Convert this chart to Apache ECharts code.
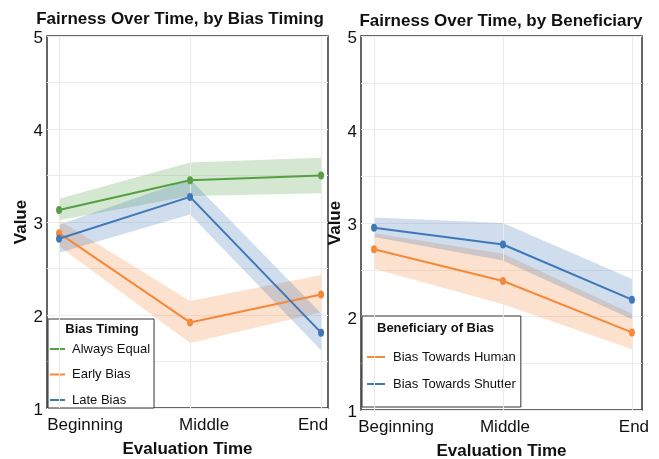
<!DOCTYPE html>
<html>
<head>
<meta charset="utf-8">
<script src="https://cdn.jsdelivr.net/npm/echarts@6/dist/echarts.min.js"></script>
<style>html,body{margin:0;padding:0;background:#fff}#c{width:659px;height:459px}</style>
</head>
<body>
<div id="c"></div>
<script>
// ---- data ----
const categories = ['Beginning', 'Middle', 'End'];
const yTicks = [1, 2, 3, 4, 5];

// Left panel: by Bias Timing
const timingNames = ['Always Equal', 'Early Bias', 'Late Bias'];
const alwaysEqual = [3.13, 3.45, 3.50];
const alwaysEqualLo = [3.02, 3.28, 3.31];
const alwaysEqualHi = [3.25, 3.64, 3.69];
const earlyBias = [2.88, 1.92, 2.22];
const earlyBiasLo = [2.74, 1.70, 2.03];
const earlyBiasHi = [3.02, 2.15, 2.43];
const lateBias = [2.82, 3.27, 1.81];
const lateBiasLo = [2.67, 3.08, 1.62];
const lateBiasHi = [2.97, 3.46, 2.02];

// Right panel: by Beneficiary
const benefNames = ['Bias Towards Human', 'Bias Towards Shutter'];
const towardsHuman = [2.72, 2.38, 1.83];
const towardsHumanLo = [2.51, 2.13, 1.65];
const towardsHumanHi = [2.89, 2.67, 2.03];
const towardsShutter = [2.95, 2.77, 2.18];
const towardsShutterLo = [2.85, 2.60, 1.97];
const towardsShutterHi = [3.06, 3.00, 2.40];

const GREEN = '#55a043', ORANGE = '#f4893a', BLUE = '#3f78b8';
const FONT = '"Liberation Sans", Arial, Helvetica, sans-serif';

const pts = arr => arr.map((v, i) => [i, v]);

function bandSeries(idx, lo, hi, color, withGrid) {
  const s = {
    type: 'custom', xAxisIndex: idx, yAxisIndex: idx, silent: true, z: 1,
    data: lo.map((v, i) => [i, v, hi[i]]),
    encode: { x: 0, y: [1, 2] },
    renderItem: function (params, api) {
      if (params.dataIndex !== 0) return null;
      const top = hi.map((v, i) => api.coord([i, v]));
      const bot = lo.map((v, i) => api.coord([i, v])).reverse();
      return {
        type: 'polygon',
        shape: { points: top.concat(bot) },
        style: { fill: color, opacity: 0.25 }
      };
    }
  };
  const arr = [s];
  if (withGrid) {
    arr.push({
      type: 'line', xAxisIndex: idx, yAxisIndex: idx, data: [], silent: true, z: 0,
      markLine: {
        silent: true, symbol: 'none', label: { show: false },
        lineStyle: { color: '#e9e9e9', width: 1, type: 'solid' },
        data: categories.map((c, i) => ({ xAxis: i }))
      }
    });
  }
  return arr;
}
function mainSeries(idx, name, vals, color) {
  return {
    type: 'line', name: name, xAxisIndex: idx, yAxisIndex: idx, data: pts(vals),
    symbol: 'circle', symbolSize: [6, 8], z: 5,
    lineStyle: { color: color, width: 2, type: 'solid' },
    itemStyle: { color: color, borderWidth: 0 }
  };
}

function xAxis(idx, min, max, pads) {
  const rich = {};
  categories.forEach((c, i) => { rich['c' + i] = { fontSize: 17, fontFamily: FONT, color: '#111', padding: pads[i] }; });
  return {
    type: 'value', gridIndex: idx, min: min, max: max,
    name: 'Evaluation Time', nameLocation: 'middle', nameGap: 33,
    nameTextStyle: { fontSize: 17, fontWeight: 'bold', fontFamily: FONT, color: '#111' },
    axisLine: { show: false }, axisTick: { show: false }, splitLine: { show: false },
    axisLabel: {
      customValues: categories.map((c, i) => i), margin: 9,
      formatter: v => { const i = Math.round(v); return '{c' + i + '|' + categories[i] + '}'; },
      rich: rich
    }
  };
}
function yAxis(idx, gap) {
  return {
    type: 'value', gridIndex: idx, min: 1, max: 5, interval: 0.5,
    name: 'Value', nameLocation: 'middle', nameGap: gap,
    nameTextStyle: { fontSize: 17, fontWeight: 'bold', fontFamily: FONT, color: '#111' },
    axisLine: { show: false }, axisTick: { show: false },
    splitLine: { lineStyle: { color: '#ececec', width: 1 } },
    axisLabel: {
      fontSize: 17, fontFamily: FONT, color: '#111', margin: 4,
      formatter: v => (yTicks.indexOf(v) >= 0 ? '{n|' + v + '}' : ''),
      rich: { n: { fontSize: 17, fontFamily: FONT, color: '#111', padding: [5, 0, 0, 0] } }
    }
  };
}

const series = [].concat(
  bandSeries(0, alwaysEqualLo, alwaysEqualHi, GREEN, true),
  bandSeries(0, earlyBiasLo, earlyBiasHi, ORANGE, false),
  bandSeries(0, lateBiasLo, lateBiasHi, BLUE, false),
  bandSeries(1, towardsHumanLo, towardsHumanHi, ORANGE, true),
  bandSeries(1, towardsShutterLo, towardsShutterHi, BLUE, false),
  [
    mainSeries(0, timingNames[0], alwaysEqual, GREEN),
    mainSeries(0, timingNames[1], earlyBias, ORANGE),
    mainSeries(0, timingNames[2], lateBias, BLUE),
    mainSeries(1, benefNames[0], towardsHuman, ORANGE),
    mainSeries(1, benefNames[1], towardsShutter, BLUE)
  ]
);

const chart = echarts.init(document.getElementById('c'), null, { renderer: 'canvas' });
chart.setOption({
  animation: false,
  backgroundColor: '#fff',
  title: [
    { text: 'Fairness Over Time, by Bias Timing', left: 175, top: 6, textAlign: 'center',
      textStyle: { fontSize: 17, fontWeight: 'bold', fontFamily: FONT, color: '#111' } },
    { text: 'Fairness Over Time, by Beneficiary', left: 496, top: 8, textAlign: 'center',
      textStyle: { fontSize: 17, fontWeight: 'bold', fontFamily: FONT, color: '#111' } }
  ],
  grid: [
    { left: 47, top: 36, width: 281, height: 372, show: true, borderColor: '#333', borderWidth: 1.5,
      backgroundColor: 'transparent', containLabel: false, outerBoundsMode: 'none' },
    { left: 361, top: 36, width: 281, height: 374, show: true, borderColor: '#333', borderWidth: 1.5,
      backgroundColor: 'transparent', containLabel: false, outerBoundsMode: 'none' }
  ],
  xAxis: [
    xAxis(0, -0.092, 2.053, [[0, 0, 0, 52], [0, 0, 0, 28], [0, 16, 0, 0]]),
    xAxis(1, -0.101, 2.078, [[0, 0, 0, 44], [0, 0, 0, 4], [0, 0, 0, 4]])
  ],
  yAxis: [yAxis(0, 9), yAxis(1, 6)],
  legend: [
    { data: timingNames, orient: 'vertical', left: 48, top: 319, padding: [23, 4, 1, 2],
      icon: 'rect', itemWidth: 15, itemHeight: 2, itemGap: 11.5, borderColor: '#333', borderWidth: 1,
      backgroundColor: '#fff', itemStyle: { borderWidth: 0 },
      textStyle: { fontSize: 13, lineHeight: 14, fontFamily: FONT, color: '#111', padding: [0, 0, 0, 2] } },
    { data: benefNames, orient: 'vertical', left: 362, top: 316, padding: [34, 5, 16, 5],
      icon: 'rect', itemWidth: 18, itemHeight: 2, itemGap: 13, borderColor: '#333', borderWidth: 1,
      backgroundColor: '#fff', itemStyle: { borderWidth: 0 },
      textStyle: { fontSize: 13, lineHeight: 14, fontFamily: FONT, color: '#111', padding: [0, 0, 0, 3] } }
  ],
  graphic: [
    { type: 'text', x: 102, y: 329, z: 100, style: { text: 'Bias Timing', fontSize: 13, fontWeight: 'bold', fontFamily: FONT, fill: '#111', align: 'center', verticalAlign: 'middle' } },
    { type: 'text', x: 377, y: 328, z: 100, style: { text: 'Beneficiary of Bias', fontSize: 13, fontWeight: 'bold', fontFamily: FONT, fill: '#111', align: 'left', verticalAlign: 'middle' } }
  ],
  series: series
});
</script>
</body>
</html>
